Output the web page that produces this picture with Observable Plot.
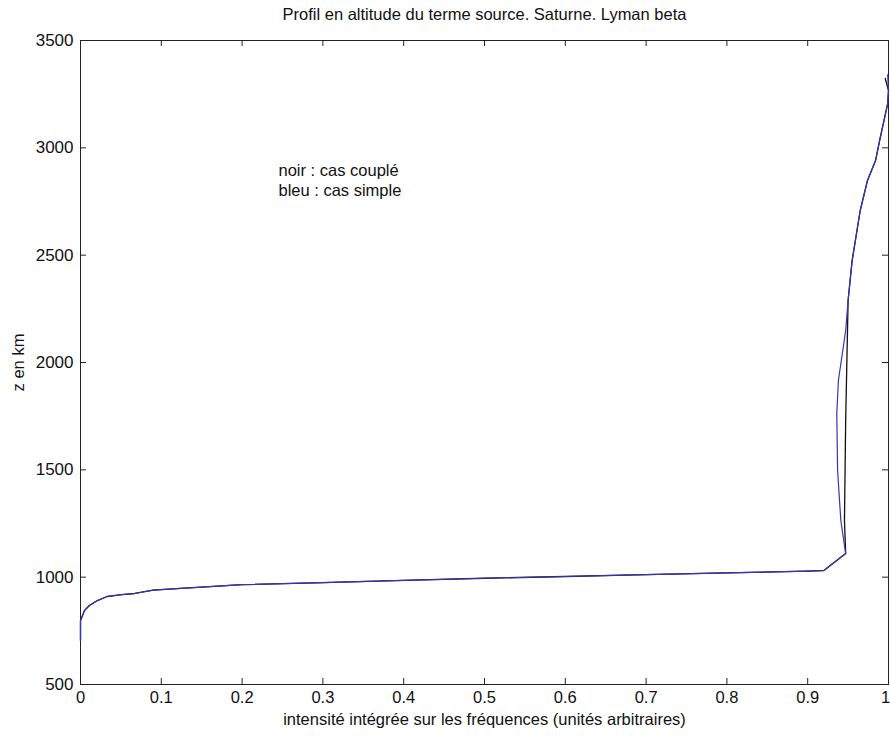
<!DOCTYPE html>
<html><head><meta charset="utf-8">
<script src="https://cdn.jsdelivr.net/npm/d3@7"></script>
<script src="https://cdn.jsdelivr.net/npm/@observablehq/plot@0.6"></script>
<style>body{margin:0;background:#fff;font-family:"Liberation Sans",Arial,sans-serif;}</style>
</head><body><div id="chart"></div>
<script>
// Coupled case (black)
const coupleX = [0.000,0.000,0.005,0.011,0.021,0.033,0.051,0.067,0.090,0.124,0.160,0.200,0.300,0.400,0.500,0.600,0.700,0.800,0.900,0.920,0.947,0.9455,0.947,0.949,0.950,0.955,0.965,0.974,0.984,0.989,0.999,1.000,0.996];
const coupleZ = [705,798,845,868,891,910,919,924,940,948,956,965,975,985,995,1003,1012,1020,1028,1031,1110,1264,1730,2102,2289,2475,2708,2848,2941,3034,3206,3267,3323];
// Simple case (blue)
const simpleX = [0.000,0.000,0.005,0.011,0.021,0.033,0.051,0.067,0.090,0.124,0.160,0.200,0.300,0.400,0.500,0.600,0.700,0.800,0.900,0.920,0.947,0.941,0.937,0.936,0.938,0.947,0.950,0.955,0.965,0.974,0.984,0.989,0.999,1.000,0.999];
const simpleZ = [705,798,845,868,891,910,919,924,940,948,956,965,975,985,995,1003,1012,1020,1028,1031,1110,1264,1497,1762,1916,2149,2289,2475,2708,2848,2941,3034,3206,3267,3340];
const xTicks = [0,0.1,0.2,0.3,0.4,0.5,0.6,0.7,0.8,0.9,1];
const yTicks = [500,1000,1500,2000,2500,3000,3500];
const titleText = "Profil en altitude du terme source. Saturne. Lyman beta";
const xLabel = "intensité intégrée sur les fréquences (unités arbitraires)";
const yLabel = "z en km";
const legendLines = ["noir : cas couplé", "bleu : cas simple"];

const couple = coupleX.map((x,i)=>({x, z: coupleZ[i]}));
const simple = simpleX.map((x,i)=>({x, z: simpleZ[i]}));
const W = 890, H = 738, mL = 80, mR = 2, mT = 40, mB = 54;
const fh = H - mT - mB, fw = W - mL - mR;
const tickLen = 6;
const ink = "#111";
const xInner = xTicks.filter(d => d !== 1);
const xLast = xTicks.filter(d => d === 1);

const chart = Plot.plot({
  width: W, height: H,
  marginLeft: mL, marginRight: mR, marginTop: mT, marginBottom: mB,
  style: {fontFamily: '"Liberation Sans", Arial, sans-serif', background: "#fff"},
  x: {domain: [0,1], axis: null},
  y: {domain: [500,3500], axis: null},
  marks: [
    Plot.frame({stroke: "#222", strokeWidth: 1}),
    Plot.tickX(xTicks, {x: d=>d, insetTop: fh - tickLen, stroke: "#222"}),
    Plot.tickX(xTicks, {x: d=>d, insetBottom: fh - tickLen, stroke: "#222"}),
    Plot.tickY(yTicks, {y: d=>d, insetRight: fw - tickLen, stroke: "#222"}),
    Plot.tickY(yTicks, {y: d=>d, insetLeft: fw - tickLen, stroke: "#222"}),
    Plot.text(xInner, {x: d=>d, frameAnchor: "bottom", lineAnchor: "middle", dy: 13,
      text: d => String(d), fontSize: 16.5, fill: ink}),
    Plot.text(xLast, {x: d=>d, frameAnchor: "bottom", lineAnchor: "middle", dy: 13, dx: -3,
      text: d => String(d), fontSize: 16.5, fill: ink}),
    Plot.text(yTicks, {y: d=>d, frameAnchor: "left", dx: -7, textAnchor: "end",
      text: d => String(d), fontSize: 17, fill: ink}),
    Plot.line(couple, {x: "x", y: "z", stroke: "#111", strokeWidth: 1.3}),
    Plot.line(simple, {x: "x", y: "z", stroke: "#3434b8", strokeWidth: 1.2}),
    Plot.text([titleText], {frameAnchor: "top", lineAnchor: "middle", dy: -26, fontSize: 16.5, fill: ink}),
    Plot.text([xLabel], {frameAnchor: "bottom", lineAnchor: "middle", dy: 35, fontSize: 16.5, fill: ink}),
    Plot.text([yLabel], {frameAnchor: "left", dx: -62, rotate: -90, textAnchor: "middle", lineAnchor: "middle", fontSize: 16.5, fill: ink}),
    Plot.text([legendLines[0]], {frameAnchor: "top-left", lineAnchor: "middle", dx: 198, dy: 130, fontSize: 16.5, fill: ink, textAnchor: "start"}),
    Plot.text([legendLines[1]], {frameAnchor: "top-left", lineAnchor: "middle", dx: 198, dy: 150, fontSize: 16.5, fill: ink, textAnchor: "start"})
  ]
});
document.getElementById("chart").appendChild(chart);
</script>
</body></html>
